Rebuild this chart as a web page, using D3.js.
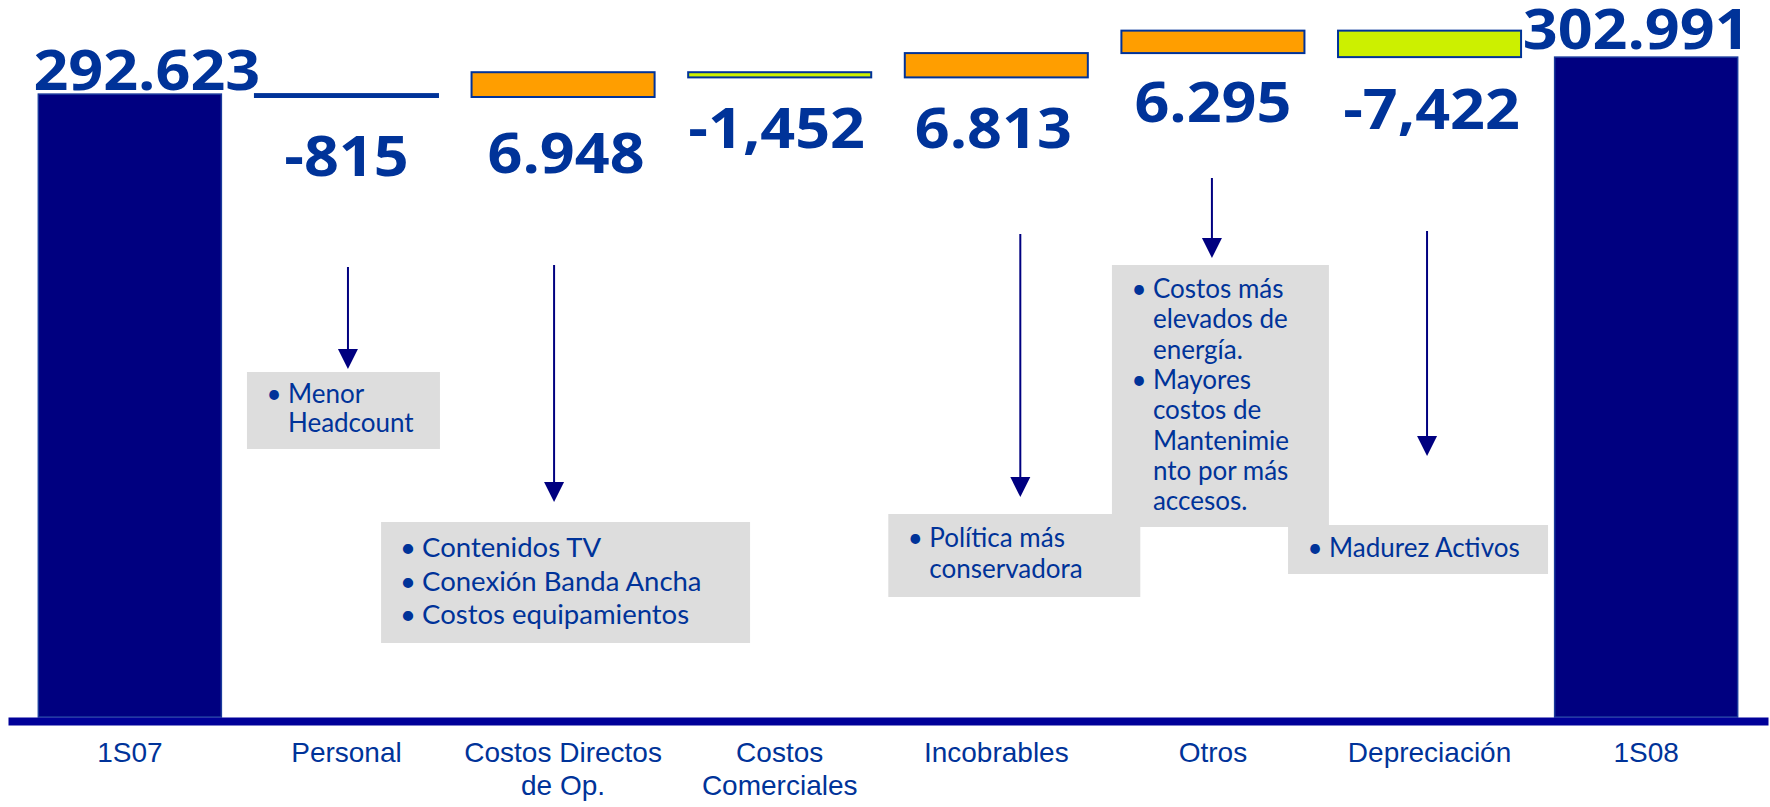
<!DOCTYPE html>
<html>
<head>
<meta charset="utf-8">
<script src="https://cdn.jsdelivr.net/npm/d3@7"></script>
<style>
body { margin: 0; background: #fff; }
svg { display: block; }
</style>
</head>
<body>
<svg width="1770" height="807"></svg>
<script>
// data
const categories = ["1S07", "Personal", "Costos Directos de Op.", "Costos Comerciales", "Incobrables", "Otros", "Depreciación", "1S08"];
const tickLines = [["1S07"], ["Personal"], ["Costos Directos", "de Op."], ["Costos", "Comerciales"], ["Incobrables"], ["Otros"], ["Depreciación"], ["1S08"]];
const startTotal = 292623;
const deltas = [-815, 6948, -1452, 6813, 6295, -7422];
const endTotal = 302991;
const valueLabels = ["292.623", "-815", "6.948", "-1,452", "6.813", "6.295", "-7,422", "302.991"];

const noteCats = ["Personal", "Costos Directos de Op.", "Incobrables", "Otros", "Depreciación"];
const noteBullets = [
  [["Menor", "Headcount"]],
  [["Contenidos TV"], ["Conexión Banda Ancha"], ["Costos equipamientos"]],
  [["Política más", "conservadora"]],
  [["Costos más", "elevados de", "energía."], ["Mayores", "costos de", "Mantenimie", "nto por más", "accesos."]],
  [["Madurez Activos"]]
];

// layout of the callouts (offsets from the band centre)
const noteLayout = [
  {arrowDx: 1.5, arrowTop: 267, arrowTip: 369, boxDx: -99.5, boxTop: 372, boxW: 193, boxH: 77, first: 31, lh: 29, fs: 26},
  {arrowDx: -9, arrowTop: 265, arrowTip: 502, boxDx: -182, boxTop: 522, boxW: 369, boxH: 121, first: 35, lh: 33.5, fs: 27.5},
  {arrowDx: 24, arrowTop: 234, arrowTip: 497, boxDx: -108, boxTop: 514, boxW: 252, boxH: 83, first: 33, lh: 31, fs: 26},
  {arrowDx: -1, arrowTop: 178, arrowTip: 258, boxDx: -101, boxTop: 265, boxW: 217, boxH: 262, first: 33, lh: 30.3, fs: 26},
  {arrowDx: -2.5, arrowTop: 231, arrowTip: 456, boxDx: -141.5, boxTop: 525, boxW: 260, boxH: 49, first: 32, lh: 30, fs: 26}
];
const labelDx = [17, 0, 3, -3, -3, 0, 2, -10];
const labelDy = [-4, 79, 76, 71, 71, 69, 72, -8];

const textBlue = "#003399";
const svg = d3.select("svg");

const x = d3.scaleBand()
  .domain(categories)
  .range([8, 1768])
  .paddingInner(0.155)
  .paddingOuter(0.14);

const y = d3.scaleLinear()
  .domain([118000, 319000])
  .range([717, 0]);

// build waterfall segments
let bars = [];
bars.push({cat: categories[0], lo: y.domain()[0], hi: startTotal, kind: "total"});
let run = startTotal;
deltas.forEach((d, i) => {
  let next = run + d;
  bars.push({cat: categories[i + 1], lo: Math.min(run, next), hi: Math.max(run, next), kind: d > 0 ? "up" : "down"});
  run = next;
});
bars.push({cat: categories[7], lo: y.domain()[0], hi: endTotal, kind: "total"});

const fills = {total: "#000080", up: "#FF9E00", down: "#CCF000"};

svg.selectAll("rect.bar")
  .data(bars)
  .join("rect")
  .attr("class", "bar")
  .attr("x", d => x(d.cat))
  .attr("width", x.bandwidth())
  .attr("y", d => y(d.hi))
  .attr("height", d => y(d.lo) - y(d.hi))
  // a bar thinner than its border just shows as a blue rule
  .attr("fill", d => (y(d.lo) - y(d.hi) < 4 && d.kind != "total") ? textBlue : fills[d.kind])
  .attr("stroke", d => d.kind == "total" ? "#1a3a9c" : textBlue)
  .attr("stroke-width", d => d.kind == "total" ? 1.5 : 2);

// axis
const ax = svg.append("g")
  .attr("transform", "translate(0,721)")
  .call(d3.axisBottom(x).tickSize(0).tickSizeOuter(0));
ax.select(".domain").attr("stroke", "#000099").attr("stroke-width", 8);
ax.selectAll(".tick text").each(function(d, i) {
  const t = d3.select(this);
  t.text(null).attr("y", null).attr("dy", null)
    .attr("fill", textBlue)
    .style("font-family", "'Liberation Sans', Arial, sans-serif")
    .style("font-size", "28px");
  tickLines[i].forEach((line, j) => {
    t.append("tspan").attr("x", 0).attr("y", 41 + j * 33).text(line);
  });
});

// value labels
svg.selectAll("text.val")
  .data(bars)
  .join("text")
  .attr("class", "val")
  .attr("x", (d, i) => x(d.cat) + x.bandwidth() / 2 + labelDx[i])
  .attr("y", (d, i) => d.kind == "total" ? y(d.hi) + labelDy[i] : y(d.lo) + labelDy[i])
  .attr("text-anchor", "middle")
  .attr("fill", textBlue)
  .style("font-family", "'Open Sans', sans-serif")
  .style("font-weight", "bold")
  .style("font-size", "56px")
  .text((d, i) => valueLabels[i])
  .each(function() {
    const w = this.getComputedTextLength();
    d3.select(this).attr("textLength", w * 1.09).attr("lengthAdjust", "spacingAndGlyphs");
  });

// callout boxes
const notes = noteCats.map((c, i) => Object.assign({cat: c, bullets: noteBullets[i]}, noteLayout[i]));
const cx = c => x(c) + x.bandwidth() / 2;

svg.selectAll("rect.note")
  .data(notes)
  .join("rect")
  .attr("class", "note")
  .attr("x", d => cx(d.cat) + d.boxDx)
  .attr("y", d => d.boxTop)
  .attr("width", d => d.boxW)
  .attr("height", d => d.boxH)
  .attr("fill", "#DDDDDD");

notes.forEach(n => {
  const left = cx(n.cat) + n.boxDx;
  let line = 0;
  n.bullets.forEach(b => {
    const by = n.boxTop + n.first + line * n.lh;
    svg.append("text")
      .attr("x", left + 27).attr("y", by)
      .attr("text-anchor", "middle")
      .attr("fill", textBlue)
      .style("font-family", "Lato, sans-serif")
      .style("font-size", n.fs + "px")
      .text("•");
    b.forEach(l => {
      svg.append("text")
        .attr("x", left + 41).attr("y", n.boxTop + n.first + line * n.lh)
        .attr("fill", textBlue)
        .style("font-family", "Lato, sans-serif")
        .style("font-size", n.fs + "px")
        .text(l);
      line++;
    });
  });

  // arrow
  const ax0 = cx(n.cat) + n.arrowDx;
  svg.append("line")
    .attr("x1", ax0).attr("x2", ax0)
    .attr("y1", n.arrowTop).attr("y2", n.arrowTip - 18)
    .attr("stroke", "#000080").attr("stroke-width", 2);
  svg.append("path")
    .attr("d", `M${ax0 - 10},${n.arrowTip - 20}L${ax0 + 10},${n.arrowTip - 20}L${ax0},${n.arrowTip}Z`)
    .attr("fill", "#000080");
});
</script>
</body>
</html>
